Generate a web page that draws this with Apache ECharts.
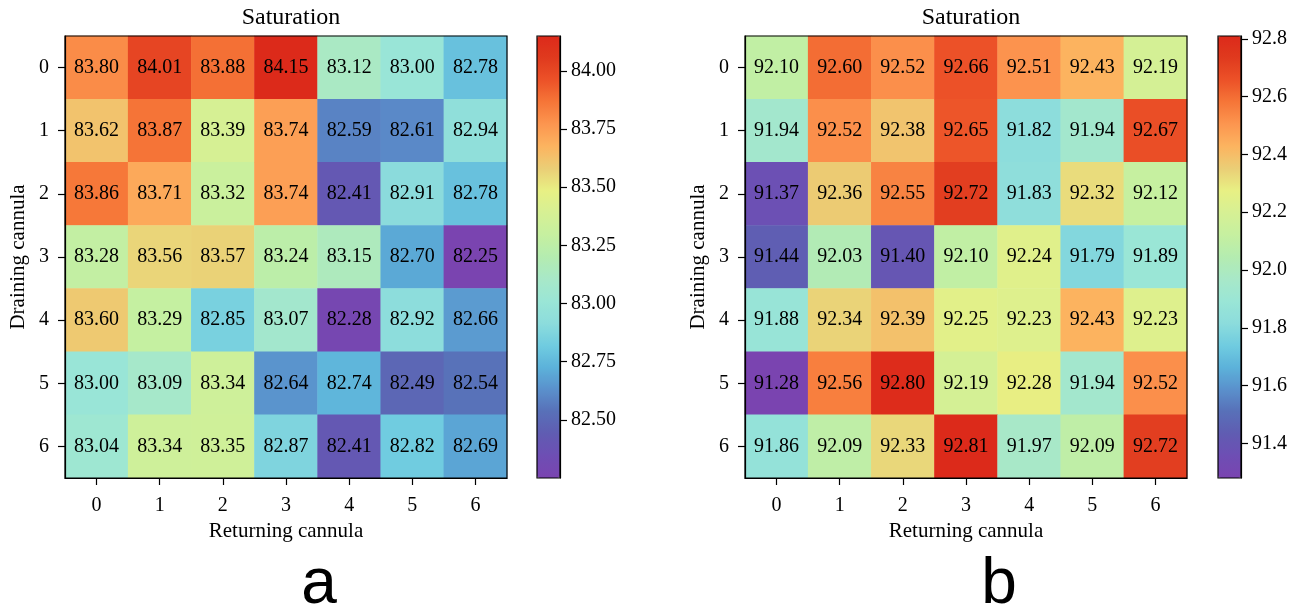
<!DOCTYPE html>
<html>
<head>
<meta charset="utf-8">
<script src="https://cdn.jsdelivr.net/npm/echarts@6/dist/echarts.min.js"></script>
<style>
  html, body { margin: 0; padding: 0; background: #fff; }
  #chart { width: 1314px; height: 614px; }
</style>
</head>
<body>
<div id="chart"></div>
<script>
// row = draining cannula, column = returning cannula
var cannula = ['0', '1', '2', '3', '4', '5', '6'];

var satA = [
  [83.80, 84.01, 83.88, 84.15, 83.12, 83.00, 82.78],
  [83.62, 83.87, 83.39, 83.74, 82.59, 82.61, 82.94],
  [83.86, 83.71, 83.32, 83.74, 82.41, 82.91, 82.78],
  [83.28, 83.56, 83.57, 83.24, 83.15, 82.70, 82.25],
  [83.60, 83.29, 82.85, 83.07, 82.28, 82.92, 82.66],
  [83.00, 83.09, 83.34, 82.64, 82.74, 82.49, 82.54],
  [83.04, 83.34, 83.35, 82.87, 82.41, 82.82, 82.69]
];

var satB = [
  [92.10, 92.60, 92.52, 92.66, 92.51, 92.43, 92.19],
  [91.94, 92.52, 92.38, 92.65, 91.82, 91.94, 92.67],
  [91.37, 92.36, 92.55, 92.72, 91.83, 92.32, 92.12],
  [91.44, 92.03, 91.40, 92.10, 92.24, 91.79, 91.89],
  [91.88, 92.34, 92.39, 92.25, 92.23, 92.43, 92.23],
  [91.28, 92.56, 92.80, 92.19, 92.28, 91.94, 92.52],
  [91.86, 92.09, 92.33, 92.81, 91.97, 92.09, 92.72]
];

var ticksA = [82.50, 82.75, 83.00, 83.25, 83.50, 83.75, 84.00];
var ticksB = [91.4, 91.6, 91.8, 92.0, 92.2, 92.4, 92.6, 92.8];

var cmap = ['#7a44b0', '#6e4eb4', '#605cb2', '#5870b8', '#5a90cc', '#5cb2da', '#70cce0',
  '#8cdcdc', '#9ae6d6', '#a8e8c8', '#b4ecb0', '#c6f0a0', '#d6f094', '#e8f084',
  '#eace76', '#fcb460', '#fc9650', '#f67638', '#ec5228', '#e03a1e', '#dc2a1a'];

var serif = 'Liberation Serif';

function cells(m) {
  var out = [];
  for (var r = 0; r < m.length; r++)
    for (var c = 0; c < m[r].length; c++)
      out.push([c, r, m[r][c]]);
  return out;
}
function lo(m) { return Math.min.apply(null, [].concat.apply([], m)); }
function hi(m) { return Math.max.apply(null, [].concat.apply([], m)); }

var chart = echarts.init(document.getElementById('chart'));

var panels = [
  { left: 65, cbLeft: 537, data: satA, ticks: ticksA, dec: 2, tag: 'a' },
  { left: 745, cbLeft: 1218, data: satB, ticks: ticksB, dec: 1, tag: 'b' }
];

var tickStyle = { color: '#000', width: 1.2 };

var option = {
  animation: false,
  backgroundColor: '#fff',
  textStyle: { fontFamily: serif, color: '#000' },
  title: [], grid: [], xAxis: [], yAxis: [], visualMap: [], series: []
};

panels.forEach(function (p, i) {
  var g = i * 2;
  option.title.push({
    text: 'Saturation', left: p.left + 221, top: 1, textAlign: 'center',
    textStyle: { fontFamily: serif, fontSize: 24, fontWeight: 'normal', color: '#000' }
  });
  option.title.push({
    text: p.tag, left: p.left + 249, top: 548, textAlign: 'center',
    textStyle: { fontFamily: 'Liberation Sans', fontSize: 64, fontWeight: 'normal', color: '#000' }
  });

  // heatmap grid
  option.grid.push({
    left: p.left, top: 36, width: 442, height: 442, z: 5,
    show: true, borderColor: '#000', borderWidth: 1.2, backgroundColor: 'transparent'
  });
  // colorbar grid
  option.grid.push({
    left: p.cbLeft, top: 36, width: 23, height: 442, z: 10,
    show: true, borderColor: '#000', borderWidth: 1.2, backgroundColor: 'transparent'
  });

  option.xAxis.push({
    type: 'category', gridIndex: g, data: cannula, position: 'bottom', z: 6,
    name: 'Returning cannula', nameLocation: 'middle', nameGap: 43,
    nameTextStyle: { fontFamily: serif, fontSize: 21, color: '#000' },
    axisLine: { show: true, lineStyle: tickStyle },
    axisTick: { show: true, alignWithLabel: true, length: 7, lineStyle: tickStyle },
    axisLabel: { fontFamily: serif, fontSize: 20, color: '#000', margin: 18 },
    splitLine: { show: false }
  });
  option.xAxis.push({
    type: 'value', gridIndex: g + 1, show: false, min: 0, max: 1
  });

  option.yAxis.push({
    type: 'category', gridIndex: g, data: cannula, inverse: true, z: 6,
    name: 'Draining cannula', nameLocation: 'middle', nameGap: 36, nameRotate: 90,
    nameTextStyle: { fontFamily: serif, fontSize: 21, color: '#000' },
    axisLine: { show: true, lineStyle: tickStyle },
    axisTick: { show: true, alignWithLabel: true, length: 7, lineStyle: tickStyle },
    axisLabel: { fontFamily: serif, fontSize: 20, color: '#000', margin: 16 },
    splitLine: { show: false }
  });
  option.yAxis.push({
    type: 'value', gridIndex: g + 1, position: 'right', z: 11,
    min: lo(p.data), max: hi(p.data),
    axisLine: { show: true, onZero: false, lineStyle: tickStyle },
    axisTick: { show: true, length: 7, customValues: p.ticks, lineStyle: tickStyle },
    axisLabel: {
      fontFamily: serif, fontSize: 20, color: '#000', margin: 11,
      customValues: p.ticks,
      formatter: function (v) { return v.toFixed(p.dec); }
    },
    splitLine: { show: false }
  });

  option.visualMap.push({
    type: 'continuous', seriesIndex: i, min: lo(p.data), max: hi(p.data),
    left: p.cbLeft, top: 36, itemWidth: 23, itemHeight: 442, padding: 0,
    calculable: false, hoverLink: false, showLabel: false, text: null,
    inRange: { color: cmap }
  });

  option.series.push({
    type: 'heatmap', xAxisIndex: g, yAxisIndex: g,
    data: cells(p.data),
    label: {
      show: true, fontFamily: serif, fontSize: 20, color: '#000',
      formatter: function (d) { return d.value[2].toFixed(2); }
    },
    emphasis: { disabled: true }
  });
});

chart.setOption(option);
</script>
</body>
</html>
